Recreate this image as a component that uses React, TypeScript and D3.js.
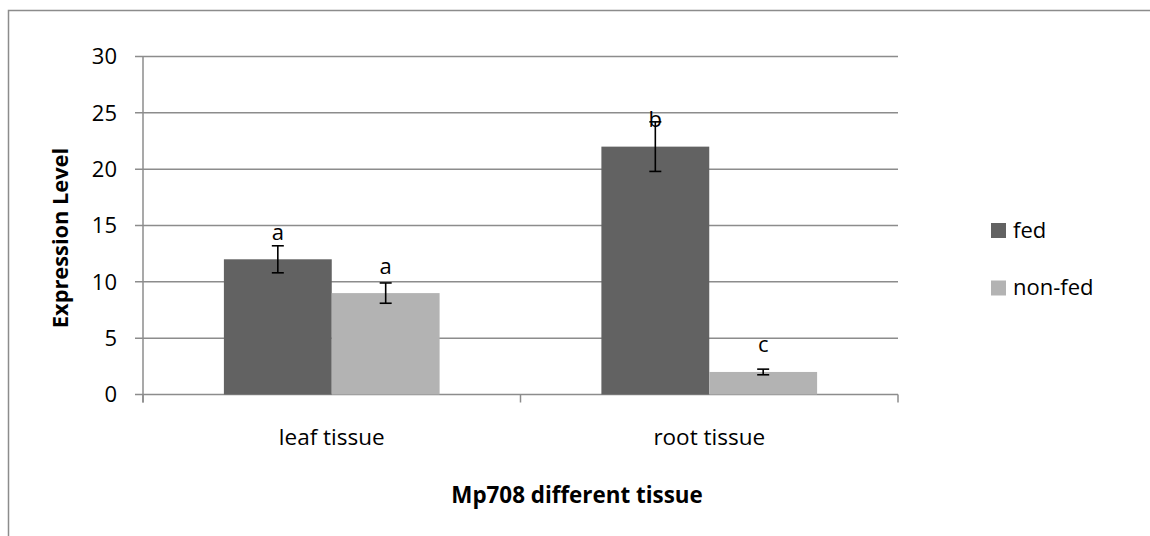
import * as d3 from "d3";

const categories = ["leaf tissue", "root tissue"];
const seriesNames = ["fed", "non-fed"];
const fedValues = [12, 22];
const nonFedValues = [9, 2];
const fedErrors = [1.2, 2.2];
const nonFedErrors = [0.9, 0.25];
const fedLetters = ["a", "b"];
const nonFedLetters = ["a", "c"];
const yTicks = [0, 5, 10, 15, 20, 25, 30];

const colors: Record<string, string> = { fed: "#626262", "non-fed": "#b3b3b3" };
const font = "'Open Sans', sans-serif";

export default function App() {
  const width = 1150;
  const height = 536;
  const plot = { left: 143, right: 898, top: 56.5, bottom: 394.5 };

  const y = d3.scaleLinear().domain([0, 30]).range([plot.bottom, plot.top]);
  const x0 = d3.scaleBand().domain(categories).range([plot.left, plot.right]).padding(0);
  // Excel-style gap width of 150%
  const x1 = d3
    .scaleBand()
    .domain(seriesNames)
    .range([0, x0.bandwidth()])
    .paddingInner(0)
    .paddingOuter(0.75);

  const rows = categories.map((c, i) => ({
    category: c,
    bars: [
      { key: "fed", value: fedValues[i], err: fedErrors[i], letter: fedLetters[i] },
      { key: "non-fed", value: nonFedValues[i], err: nonFedErrors[i], letter: nonFedLetters[i] },
    ],
  }));

  const xTicks = [plot.left, ...categories.map((c) => (x0(c) as number) + x0.bandwidth())];

  return (
    <div style={{ position: "absolute", left: 0, top: 0 }}>
      <svg width={width} height={height} style={{ display: "block", background: "#fff" }}>
        {/* chart border */}
        <rect x={8.5} y={10.5} width={1160} height={560} fill="none" stroke="#8c8c8c" strokeWidth={1.5} />

        {/* gridlines */}
        {yTicks.map((t) => (
          <line key={t} x1={plot.left - 8} x2={plot.right} y1={y(t)} y2={y(t)} stroke="#8c8c8c" strokeWidth={1.5} />
        ))}
        <line x1={plot.left} x2={plot.left} y1={plot.top} y2={plot.bottom + 8} stroke="#8c8c8c" strokeWidth={1.5} />
        {xTicks.map((t, i) => (
          <line key={i} x1={t} x2={t} y1={plot.bottom} y2={plot.bottom + 8} stroke="#8c8c8c" strokeWidth={1.5} />
        ))}

        {/* y tick labels */}
        {yTicks.map((t) => (
          <text key={t} x={117} y={y(t)} dy="0.36em" textAnchor="end" fontFamily={font} fontSize={22} fill="#000">
            {t}
          </text>
        ))}

        {/* bars */}
        {rows.map((r) =>
          r.bars.map((b) => {
            const bx = (x0(r.category) as number) + (x1(b.key) as number);
            const cx = bx + x1.bandwidth() / 2;
            return (
              <g key={r.category + b.key}>
                <rect x={bx} y={y(b.value)} width={x1.bandwidth()} height={y(0) - y(b.value)} fill={colors[b.key]} />
                <line x1={cx} x2={cx} y1={y(b.value + b.err)} y2={y(b.value - b.err)} stroke="#000" strokeWidth={1.6} />
                <line x1={cx - 6} x2={cx + 6} y1={y(b.value + b.err)} y2={y(b.value + b.err)} stroke="#000" strokeWidth={1.6} />
                <line x1={cx - 6} x2={cx + 6} y1={y(b.value - b.err)} y2={y(b.value - b.err)} stroke="#000" strokeWidth={1.6} />
                <text x={cx} y={y(b.value) - 19.5} textAnchor="middle" fontFamily={font} fontSize={22} fill="#000">
                  {b.letter}
                </text>
              </g>
            );
          })
        )}

        {/* category labels */}
        {categories.map((c) => (
          <text
            key={c}
            x={(x0(c) as number) + x0.bandwidth() / 2}
            y={445}
            textAnchor="middle"
            fontFamily={font}
            fontSize={22.5}
            fill="#000"
          >
            {c}
          </text>
        ))}

        {/* axis titles */}
        <text x={577} y={503} textAnchor="middle" fontFamily={font} fontWeight="bold" fontSize={22.4} fill="#000">
          Mp708 different tissue
        </text>
        <text
          transform={`translate(68,238) rotate(-90)`}
          textAnchor="middle"
          fontFamily={font}
          fontWeight="bold"
          fontSize={21.8}
          fill="#000"
        >
          Expression Level
        </text>

        {/* legend */}
        {seriesNames.map((s, i) => (
          <g key={s} transform={`translate(991, ${223 + i * 57.5})`}>
            <rect x={0} y={0} width={15} height={15} fill={colors[s]} />
            <text x={22} y={14.5} fontFamily={font} fontSize={22} fill="#000">
              {s}
            </text>
          </g>
        ))}
      </svg>
    </div>
  );
}
